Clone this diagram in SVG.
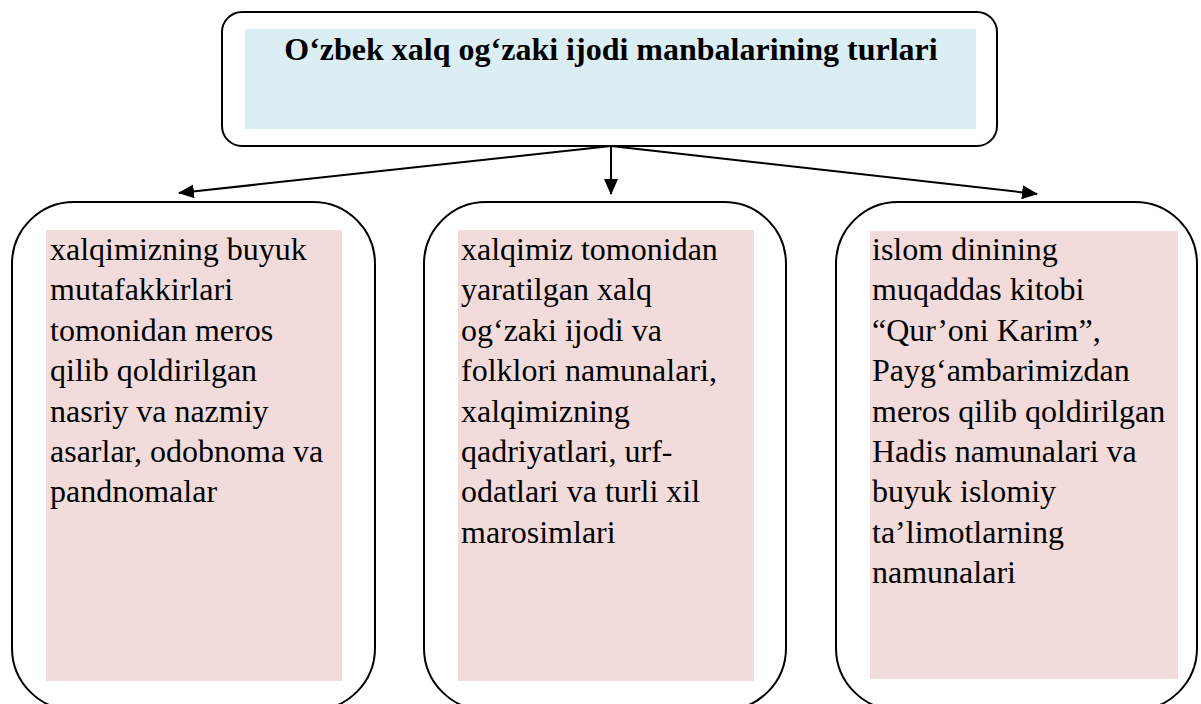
<svg xmlns="http://www.w3.org/2000/svg" width="1201" height="704" viewBox="0 0 1201 704">
<defs>
<style>
.frame{fill:#fff;stroke:#000;stroke-width:2}
.blue{fill:#DAEEF3}
.pink{fill:#F2DCDB}
.title{font-family:"Liberation Serif","Times New Roman",serif;font-weight:bold;font-size:32px;fill:#000}
.body{font-family:"Liberation Serif","Times New Roman",serif;font-size:32px;fill:#000}
.conn{stroke:#000;stroke-width:2;fill:none}
</style>
<marker id="ah" markerWidth="16" markerHeight="14" refX="15" refY="7" orient="auto" markerUnits="userSpaceOnUse">
<path d="M0,0 L16,7 L0,14 Z" fill="#000"/>
</marker>
</defs>
<rect width="1201" height="704" fill="#fff"/>
<g id="node-title">
<rect class="frame" x="222" y="12" width="775" height="134" rx="20" ry="20"/>
<rect class="blue" x="245" y="29" width="731" height="100"/>
<text class="title" x="611" y="60" text-anchor="middle">O‘zbek xalq og‘zaki ijodi manbalarining turlari</text>
</g>
<g id="connectors">
<line class="conn" x1="611" y1="146" x2="179" y2="193" marker-end="url(#ah)"/>
<line class="conn" x1="611" y1="146" x2="611" y2="194" marker-end="url(#ah)"/>
<line class="conn" x1="611" y1="146" x2="1037" y2="194" marker-end="url(#ah)"/>
</g>
<g id="node-left">
<rect class="frame" x="12" y="202" width="363" height="508" rx="62" ry="62"/>
<rect class="pink" x="46" y="230" width="296" height="451"/>
<text class="body" x="50">
<tspan x="50" y="260">xalqimizning buyuk</tspan>
<tspan x="50" y="300.4">mutafakkirlari</tspan>
<tspan x="50" y="340.8">tomonidan meros</tspan>
<tspan x="50" y="381.2">qilib qoldirilgan</tspan>
<tspan x="50" y="421.6">nasriy va nazmiy</tspan>
<tspan x="50" y="462">asarlar, odobnoma va</tspan>
<tspan x="50" y="502.4">pandnomalar</tspan>
</text>
</g>
<g id="node-middle">
<rect class="frame" x="424" y="202" width="362" height="508" rx="62" ry="62"/>
<rect class="pink" x="458" y="230" width="296" height="451"/>
<text class="body">
<tspan x="461" y="260">xalqimiz tomonidan</tspan>
<tspan x="461" y="300.4">yaratilgan xalq</tspan>
<tspan x="461" y="340.8">og‘zaki ijodi va</tspan>
<tspan x="461" y="381.2">folklori namunalari,</tspan>
<tspan x="461" y="421.6">xalqimizning</tspan>
<tspan x="461" y="462">qadriyatlari, urf-</tspan>
<tspan x="461" y="502.4">odatlari va turli xil</tspan>
<tspan x="461" y="542.8">marosimlari</tspan>
</text>
</g>
<g id="node-right">
<rect class="frame" x="836" y="202" width="361" height="508" rx="62" ry="62"/>
<rect class="pink" x="870" y="231" width="308" height="448"/>
<text class="body">
<tspan x="872" y="260">islom dinining</tspan>
<tspan x="872" y="300.4">muqaddas kitobi</tspan>
<tspan x="872" y="340.8">“Qur’oni Karim”,</tspan>
<tspan x="872" y="381.2">Payg‘ambarimizdan</tspan>
<tspan x="872" y="421.6">meros qilib qoldirilgan</tspan>
<tspan x="872" y="462">Hadis namunalari va</tspan>
<tspan x="872" y="502.4">buyuk islomiy</tspan>
<tspan x="872" y="542.8">ta’limotlarning</tspan>
<tspan x="872" y="583.2">namunalari</tspan>
</text>
</g>
</svg>
